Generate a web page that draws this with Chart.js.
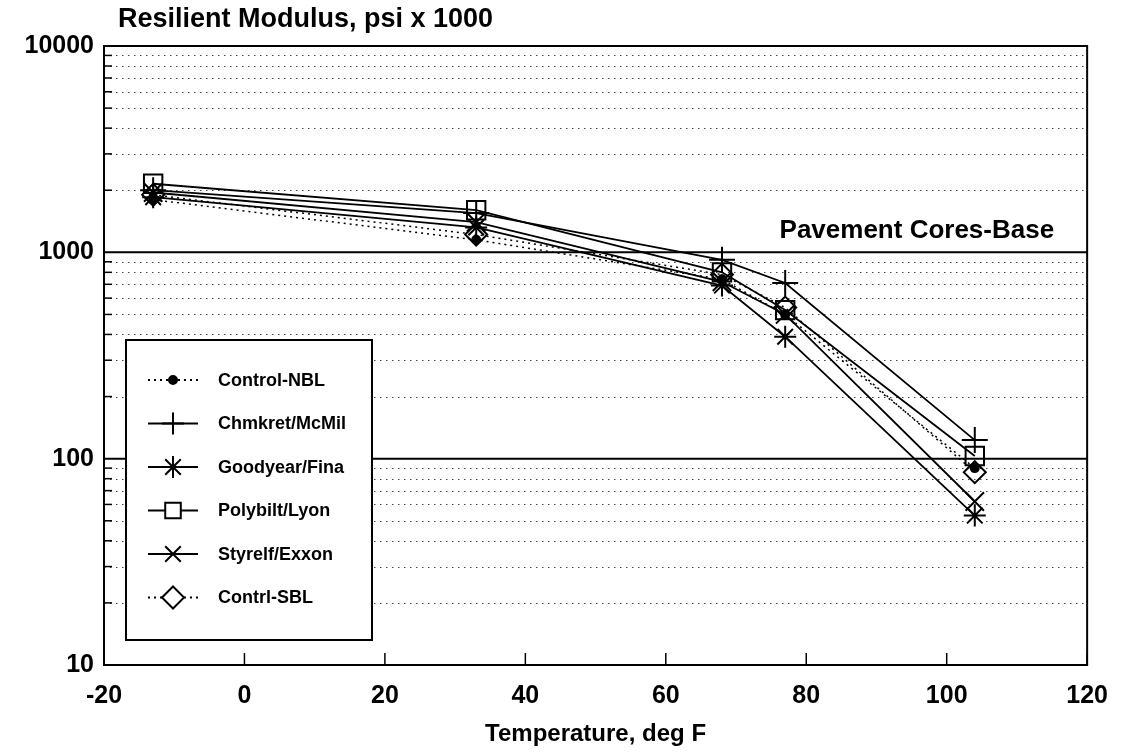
<!DOCTYPE html>
<html>
<head>
<meta charset="utf-8">
<script src="https://cdn.jsdelivr.net/npm/chart.js@4/dist/chart.umd.min.js"></script>
<style>
  html, body { margin: 0; padding: 0; background: #fff; }
  #wrap { width: 1124px; height: 753px; position: relative; }
</style>
</head>
<body>
<div id="wrap"><canvas id="c" width="1124" height="753"></canvas></div>
<script>
// ---- data ----
const temperatures = [-13, 33, 68, 77, 104];
const seriesNames = ['Control-NBL', 'Chmkret/McMil', 'Goodyear/Fina', 'Polybilt/Lyon', 'Styrelf/Exxon', 'Contrl-SBL'];
const controlNBL = [1800, 1150, 740, 500, 90];
const chmkret    = [2000, 1550, 920, 710, 123];
const goodyear   = [1850, 1320, 690, 390, 53];
const polybilt   = [2150, 1600, 800, 525, 103];
const styrelf    = [1950, 1400, 720, 500, 62];
const contrlSBL  = [1900, 1220, 780, 540, 86];
const xTicks = [-20, 0, 20, 40, 60, 80, 100, 120];
const yMajorTicks = [10, 100, 1000, 10000];
const chartTitle = 'Resilient Modulus, psi x 1000';
const xTitle = 'Temperature, deg F';
const annotationText = 'Pavement Cores-Base';

const FONT = '"Liberation Sans", Arial, Helvetica, sans-serif';

const styles = [
  { pointStyle: 'circle',   radius: 4,  dash: [2, 4], fill: '#000' },
  { pointStyle: 'cross',    radius: 13, dash: [],     fill: 'rgba(0,0,0,0)' },
  { pointStyle: 'star',     radius: 11, dash: [],     fill: 'rgba(0,0,0,0)' },
  { pointStyle: 'rect',     radius: 13, dash: [],     fill: 'rgba(0,0,0,0)' },
  { pointStyle: 'crossRot', radius: 13, dash: [],     fill: 'rgba(0,0,0,0)' },
  { pointStyle: 'rectRot',  radius: 11, dash: [2, 4], fill: 'rgba(0,0,0,0)' }
];
const seriesValues = [controlNBL, chmkret, goodyear, polybilt, styrelf, contrlSBL];

const datasets = seriesNames.map((name, i) => ({
  label: name,
  data: temperatures.map((t, j) => ({ x: t, y: seriesValues[i][j] })),
  borderColor: '#000',
  borderWidth: styles[i].dash.length ? 1.5 : 1.8,
  borderDash: styles[i].dash,
  backgroundColor: styles[i].fill,
  pointStyle: styles[i].pointStyle,
  pointRadius: styles[i].radius,
  pointHoverRadius: styles[i].radius,
  pointBorderColor: '#000',
  pointBackgroundColor: styles[i].fill,
  pointBorderWidth: 2,
  tension: 0,
  fill: false
}));

const decorPlugin = {
  id: 'decor',
  beforeDraw(chart) {
    const ctx = chart.ctx;
    ctx.save();
    ctx.fillStyle = '#fff';
    ctx.fillRect(0, 0, chart.width, chart.height);
    ctx.restore();
  },
  beforeDatasetsDraw(chart) {
    const { ctx, chartArea: a, scales } = chart;
    const y = scales.y;
    ctx.save();
    for (let p = 1; p < 4; p++) {
      const base = Math.pow(10, p);
      for (let m = 2; m <= 9; m++) {
        const py = Math.round(y.getPixelForValue(m * base)) + 0.5;
        ctx.strokeStyle = '#444';
        ctx.lineWidth = 1;
        ctx.setLineDash([1.5, 4.5]);
        ctx.beginPath();
        ctx.moveTo(a.left, py);
        ctx.lineTo(a.right, py);
        ctx.stroke();
      }
    }
    ctx.setLineDash([]);
    [100, 1000].forEach(v => {
      const py = y.getPixelForValue(v);
      ctx.strokeStyle = '#000';
      ctx.lineWidth = 2;
      ctx.beginPath();
      ctx.moveTo(a.left, py);
      ctx.lineTo(a.right, py);
      ctx.stroke();
    });
    ctx.restore();
  },
  afterDatasetsDraw(chart) {
    const { ctx, chartArea: a, scales } = chart;
    const x = scales.x, y = scales.y;
    ctx.save();
    // frame
    ctx.strokeStyle = '#000';
    ctx.lineWidth = 2;
    ctx.setLineDash([]);
    ctx.strokeRect(a.left, a.top, a.right - a.left, a.bottom - a.top);
    // inside y ticks
    ctx.lineWidth = 1.5;
    for (let p = 1; p < 4; p++) {
      const base = Math.pow(10, p);
      for (let m = 2; m <= 9; m++) {
        const py = y.getPixelForValue(m * base);
        ctx.beginPath();
        ctx.moveTo(a.left, py);
        ctx.lineTo(a.left + 8, py);
        ctx.stroke();
      }
    }
    // inside x ticks
    xTicks.forEach(v => {
      const px = x.getPixelForValue(v);
      ctx.beginPath();
      ctx.moveTo(px, a.bottom);
      ctx.lineTo(px, a.bottom - 12);
      ctx.stroke();
    });
    // annotation
    ctx.fillStyle = '#000';
    ctx.font = 'bold 26px ' + FONT;
    ctx.textAlign = 'right';
    ctx.textBaseline = 'middle';
    ctx.fillText(annotationText, a.right - 33, y.getPixelForValue(1000) - 22);

    // legend box
    const lx = a.left + 22, ly = a.top + 294, lw = 246, lh = 300;
    ctx.fillStyle = '#fff';
    ctx.fillRect(lx, ly, lw, lh);
    ctx.strokeStyle = '#000';
    ctx.lineWidth = 2;
    ctx.strokeRect(lx, ly, lw, lh);
    const rowGap = 43.5;
    const row0 = ly + 40;
    chart.data.datasets.forEach((ds, i) => {
      const ry = row0 + i * rowGap;
      ctx.strokeStyle = '#000';
      ctx.lineWidth = 1.8;
      ctx.setLineDash(ds.borderDash || []);
      ctx.beginPath();
      ctx.moveTo(lx + 22, ry);
      ctx.lineTo(lx + 72, ry);
      ctx.stroke();
      ctx.setLineDash([]);
      const hollow = ds.pointStyle !== 'circle';
      ctx.fillStyle = hollow ? '#fff' : '#000';
      ctx.strokeStyle = '#000';
      ctx.lineWidth = 2;
      Chart.helpers.drawPoint(ctx, {
        pointStyle: ds.pointStyle,
        radius: hollow ? Math.min(ds.pointRadius, 11) : 4,
        rotation: 0,
        borderWidth: 2
      }, lx + 47, ry);
      ctx.fillStyle = '#000';
      ctx.font = 'bold 18px ' + FONT;
      ctx.textAlign = 'left';
      ctx.textBaseline = 'middle';
      ctx.fillText(ds.label, lx + 92, ry + 1);
    });
    ctx.restore();
  },
  afterDraw(chart) {
    const ctx = chart.ctx;
    ctx.save();
    ctx.fillStyle = '#000';
    ctx.font = 'bold 27px ' + FONT;
    ctx.textAlign = 'left';
    ctx.textBaseline = 'middle';
    ctx.fillText(chartTitle, 118, 20);
    ctx.restore();
  }
};

new Chart(document.getElementById('c'), {
  type: 'line',
  data: { datasets },
  plugins: [decorPlugin],
  options: {
    responsive: false,
    animation: false,
    events: [],
    layout: { padding: { top: 46, right: 36, left: 0, bottom: 4 } },
    plugins: { legend: { display: false }, tooltip: { enabled: false }, title: { display: false } },
    scales: {
      x: {
        type: 'linear',
        min: -20, max: 120,
        afterBuildTicks(scale) { scale.ticks = xTicks.map(v => ({ value: v })); },
        afterFit(scale) { scale.height = 84; },
        ticks: { color: '#000', font: { family: FONT, size: 25, weight: 'bold' }, padding: 16, maxRotation: 0 },
        grid: { display: false, drawTicks: false },
        border: { display: false },
        title: { display: true, text: xTitle, color: '#000', font: { family: FONT, size: 24, weight: 'bold' }, padding: { top: 4, bottom: 0 } }
      },
      y: {
        type: 'logarithmic',
        min: 10, max: 10000,
        afterBuildTicks(scale) { scale.ticks = yMajorTicks.map(v => ({ value: v, major: true })); },
        afterFit(scale) { scale.width = 104; },
        ticks: {
          color: '#000', font: { family: FONT, size: 25, weight: 'bold' }, padding: 10,
          autoSkip: false,
          callback: (v) => String(v)
        },
        grid: { display: false, drawTicks: false },
        border: { display: false }
      }
    }
  }
});
</script>
</body>
</html>
